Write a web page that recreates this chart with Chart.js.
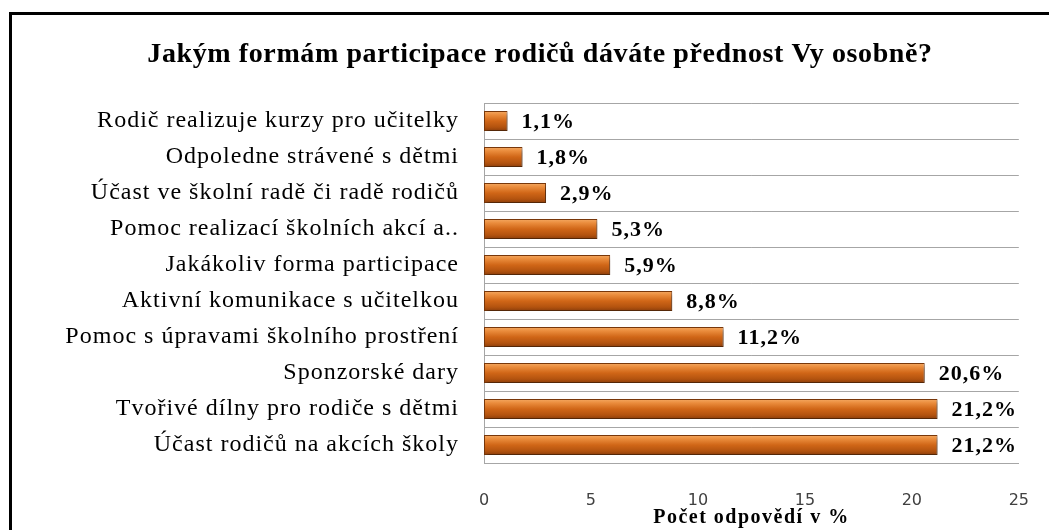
<!DOCTYPE html>
<html>
<head>
<meta charset="utf-8">
<script src="https://cdn.jsdelivr.net/npm/chart.js@4/dist/chart.umd.min.js"></script>
<style>
    html, body { margin: 0; padding: 0; background: #fff; }
    #wrap { position: relative; width: 1049px; height: 530px; overflow: hidden; }
    #frame {
        position: absolute; left: 9px; top: 12px; width: 1200px; height: 700px;
        border: 3px solid #000; pointer-events: none; box-sizing: border-box;
    }
</style>
</head>
<body>
<div id="wrap">
    <canvas id="formyChart" width="1049" height="530"></canvas>
    <div id="frame"></div>
</div>
<script>
// Data
const chartTitle = 'Jakým formám participace rodičů dáváte přednost Vy osobně?';
const axisTitle = 'Počet odpovědí v %';
const categories = [
    'Rodič realizuje kurzy pro učitelky',
    'Odpoledne strávené s dětmi',
    'Účast ve školní radě či radě rodičů',
    'Pomoc realizací školních akcí a..',
    'Jakákoliv forma participace',
    'Aktivní komunikace s učitelkou',
    'Pomoc s úpravami školního prostření',
    'Sponzorské dary',
    'Tvořivé dílny pro rodiče s dětmi',
    'Účast rodičů na akcích školy'
];
const percentValues = [1.1, 1.8, 2.9, 5.3, 5.9, 8.8, 11.2, 20.6, 21.2, 21.2];
const xTicks = [0, 5, 10, 15, 20, 25];

const BAR_PCT = 0.56;
const SERIF = '"Liberation Serif", "Times New Roman", serif';

function formatPct(v) {
    return v.toFixed(1).replace('.', ',') + '%';
}

// run a scale drawing method with loose letter spacing
function spaced(scale, method, spacing) {
    if (scale['_' + method]) return;
    const orig = scale[method];
    scale['_' + method] = orig;
    scale[method] = function() {
        const c = this.ctx;
        const prev = c.letterSpacing;
        c.letterSpacing = spacing;
        orig.apply(this, arguments);
        c.letterSpacing = prev || '0px';
    };
}

/**
 * Vertical gradient per bar, built from the y scale position
 */
function barGradient(context) {
    const chart = context.chart;
    const yScale = chart.scales.y;
    if (!chart.chartArea || !yScale) return '#c55a11';
    const yc = yScale.getPixelForValue(context.dataIndex);
    const h = yScale.height / categories.length * BAR_PCT;
    const g = chart.ctx.createLinearGradient(0, yc - h / 2, 0, yc + h / 2);
    g.addColorStop(0, '#f5aa64');
    g.addColorStop(0.2, '#ea8c3c');
    g.addColorStop(0.5, '#d06617');
    g.addColorStop(0.8, '#b3530f');
    g.addColorStop(1, '#8a3d0b');
    return g;
}

const barDecor = {
    id: 'barDecor',
    beforeDatasetsDraw(chart) {
        const ctx = chart.ctx;
        ctx.save();
        ctx.shadowColor = 'rgba(0, 0, 0, 0.35)';
        ctx.shadowBlur = 4;
        ctx.shadowOffsetX = 2;
        ctx.shadowOffsetY = 3;
    },
    afterDatasetsDraw(chart) {
        const ctx = chart.ctx;
        ctx.restore();

        // value labels
        const meta = chart.getDatasetMeta(0);
        ctx.save();
        ctx.font = 'bold 22px ' + SERIF;
        ctx.fillStyle = '#000';
        ctx.textAlign = 'left';
        ctx.textBaseline = 'middle';
        if ('letterSpacing' in ctx) ctx.letterSpacing = '1px';
        meta.data.forEach(function(bar, i) {
            ctx.fillText(formatPct(percentValues[i]), bar.x + 14, bar.y + 1);
        });
        ctx.restore();

        // chart title
        ctx.save();
        ctx.font = 'bold 28px ' + SERIF;
        ctx.fillStyle = '#000';
        ctx.textAlign = 'center';
        ctx.textBaseline = 'middle';
        if ('letterSpacing' in ctx) ctx.letterSpacing = '0.6px';
        ctx.fillText(chartTitle, 540, 55);
        ctx.restore();
    }
};

const ctx = document.getElementById('formyChart').getContext('2d');
const chart = new Chart(ctx, {
    type: 'bar',
    data: {
        labels: categories,
        datasets: [{
            data: percentValues,
            backgroundColor: barGradient,
            borderColor: '#7a380a',
            borderWidth: 1,
            borderSkipped: false,
            barPercentage: BAR_PCT,
            categoryPercentage: 1
        }]
    },
    options: {
        indexAxis: 'y',
        responsive: false,
        animation: false,
        layout: {
            padding: { top: 103, right: 22, bottom: 0, left: 0 }
        },
        plugins: {
            legend: { display: false },
            title: { display: false },
            tooltip: { enabled: false }
        },
        scales: {
            x: {
                min: 0,
                max: 25,
                afterBuildTicks: function(scale) {
                    scale.ticks = xTicks.map(v => ({ value: v }));
                },
                afterFit: function(scale) {
                    scale.height = 67;
                    spaced(scale, 'drawTitle', '1.5px');
                },
                grid: { display: false },
                border: { display: true, color: '#a6a6a6' },
                ticks: {
                    padding: 20,
                    color: '#404040',
                    font: { family: '"DejaVu Sans", Verdana, sans-serif', size: 16 }
                },
                title: {
                    display: true,
                    text: axisTitle,
                    color: '#000',
                    padding: { top: 0, bottom: 0 },
                    font: { family: SERIF, size: 20, weight: 'bold' }
                }
            },
            y: {
                afterFit: function(scale) {
                    scale.width = 484;
                    spaced(scale, 'drawLabels', '1px');
                },
                grid: {
                    display: true,
                    color: '#a6a6a6',
                    drawTicks: false,
                    offset: true
                },
                border: { display: true, color: '#a6a6a6' },
                ticks: {
                    padding: 25,
                    color: '#000',
                    font: { family: SERIF, size: 24 }
                }
            }
        }
    },
    plugins: [barDecor]
});
</script>
</body>
</html>
